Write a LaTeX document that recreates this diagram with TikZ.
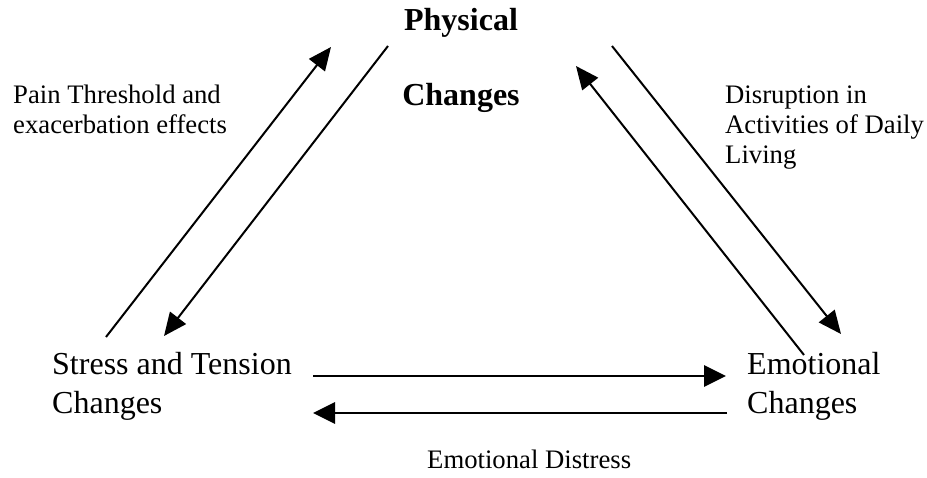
\documentclass[tikz,border=0pt]{standalone}
\usepackage{fontspec}
\setmainfont{Liberation Serif}
\usetikzlibrary{arrows.meta}
\begin{document}
\begin{tikzpicture}[x=1pt,y=-1pt,
  big/.style={font=\fontsize{32}{39}\selectfont, align=left, inner sep=0pt, anchor=base west},
  bigbold/.style={font=\fontsize{32}{34}\selectfont\bfseries, inner sep=0pt, anchor=base},
  small/.style={font=\fontsize{26.7}{30}\selectfont, align=left, inner sep=0pt, anchor=base west},
  diag/.style={line width=2pt, -{Triangle[length=23pt,width=20pt]}},
  horiz/.style={line width=2.8pt, -{Triangle[length=22pt,width=21pt]}},
]
\useasboundingbox (0,0) rectangle (927,477);
% text (base anchor of a multi-line node = baseline of its last line)
\node[bigbold] (phys) at (461,30) {Physical};
\node[bigbold] (physc) at (461,105) {Changes};
\node[small] (pain) at (13,133) {Pain Threshold and\\exacerbation effects};
\node[small] (disr) at (725,163) {Disruption in\\Activities of Daily\\Living};
\node[big] (stress) at (52,413) {Stress and Tension\\Changes};
\node[big] (emo) at (747,413) {Emotional\\Changes};
\node[small] (dist) at (427,468) {Emotional Distress};
% end points
\coordinate (s1) at (106,337); \coordinate (p1) at (331,47);
\coordinate (p2) at (388,46);  \coordinate (s2) at (164,336);
\coordinate (p3) at (612,46);  \coordinate (e3) at (841,334);
\coordinate (e4) at (804,355); \coordinate (p4) at (576,66);
\coordinate (s5) at (313,376); \coordinate (e5) at (726,376);
\coordinate (e6) at (727,413); \coordinate (s6) at (313,413);
% arrows
\draw[diag] (s1) -- (p1);
\draw[diag] (p2) -- (s2);
\draw[diag] (p3) -- (e3);
\draw[diag] (e4) -- (p4);
\draw[horiz] (s5) -- (e5);
\draw[horiz] (e6) -- (s6);
\end{tikzpicture}
\end{document}
